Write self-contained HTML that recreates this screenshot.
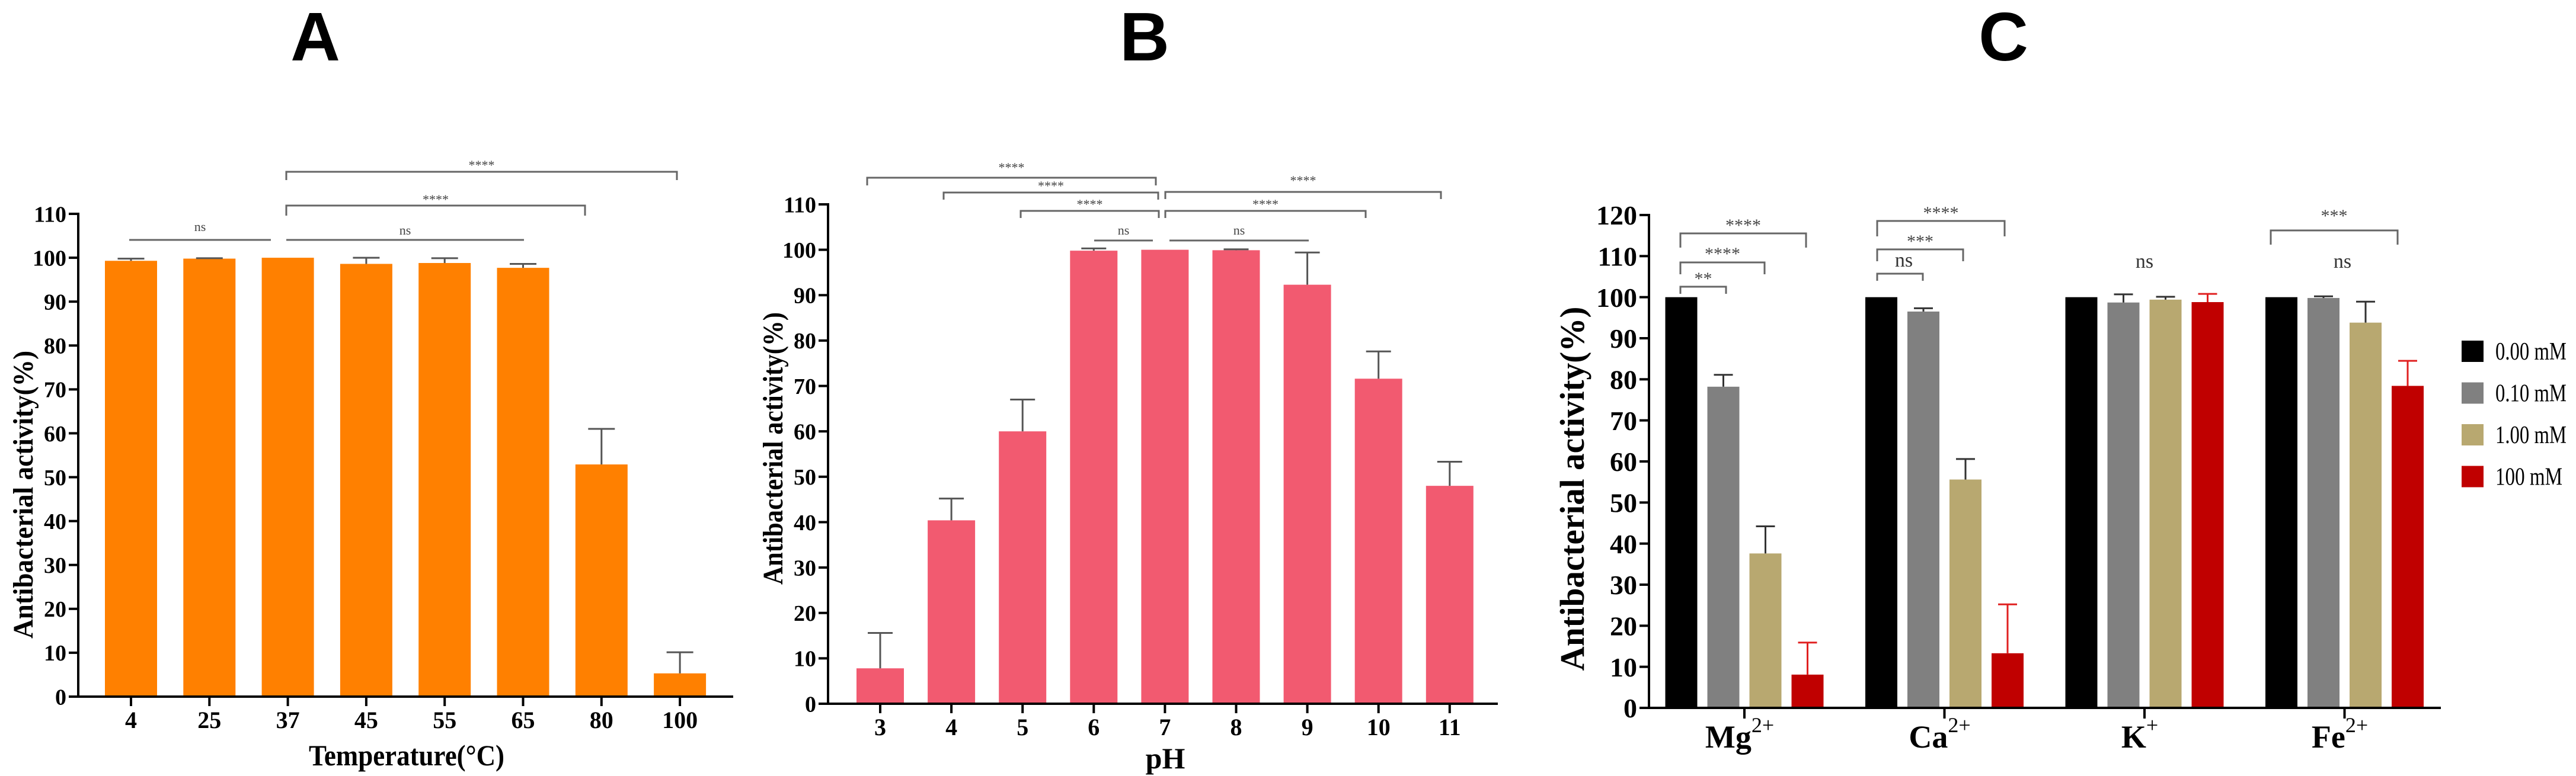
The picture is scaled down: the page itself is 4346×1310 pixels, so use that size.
<!DOCTYPE html>
<html><head><meta charset="utf-8"><style>
html,body{margin:0;padding:0;background:#fff;}
svg{display:block;}
text{font-family:"Liberation Serif",serif;}
.ttl{font-family:"Liberation Sans",sans-serif;font-weight:bold;}
</style></head><body>
<svg id="fig" width="4346" height="1310" viewBox="0 0 4346 1310" xmlns="http://www.w3.org/2000/svg">
<text class="ttl" x="532" y="102" font-size="116" text-anchor="middle">A</text>
<text class="ttl" x="1931" y="102" font-size="116" text-anchor="middle">B</text>
<text class="ttl" x="3380" y="102" font-size="116" text-anchor="middle">C</text>
</svg>
<script>
// Panel A data
const aCats = ["4","25","37","45","55","65","80","100"];
const aVals = [99.3,99.8,100,98.6,98.8,97.7,52.9,5.3];
const aErrs = [0.5,0.1,0,1.4,1.1,0.9,8.1,4.8];
const aTicks = [0,10,20,30,40,50,60,70,80,90,100,110];
// Panel B data
const bCats = ["3","4","5","6","7","8","9","10","11"];
const bVals = [7.8,40.4,60.0,99.8,100,99.9,92.3,71.6,48.0];
const bErrs = [7.8,4.8,7.0,0.5,0,0.2,7.1,6.0,5.3];
const bTicks = [0,10,20,30,40,50,60,70,80,90,100,110];
// Panel C data
const cGroups = ["Mg","Ca","K","Fe"];
const cSup = ["2+","2+","+","2+"];
const cSeries = ["0.00 mM","0.10 mM","1.00 mM","100 mM"];
const cVals0 = [100,100,100,100];
const cVals1 = [78.2,96.5,98.7,99.8];
const cVals2 = [37.6,55.6,99.4,93.8];
const cVals3 = [8.1,13.3,98.8,78.4];
const cErr0 = [0,0,0,0];
const cErr1 = [2.9,0.8,2.0,0.4];
const cErr2 = [6.6,5.0,0.7,5.1];
const cErr3 = [7.8,11.9,2.0,6.1];
const cTicks = [0,10,20,30,40,50,60,70,80,90,100,110,120];

const NS="http://www.w3.org/2000/svg";
const svg=document.getElementById('fig');
function mk(tag,attrs,parent){const e=document.createElementNS(NS,tag);for(const k in attrs)e.setAttribute(k,attrs[k]);(parent||svg).appendChild(e);return e;}

function axes(p,ticks,fs,prefix){
  const yAxis=mk('line',{x1:p.x0,y1:p.y0+2,x2:p.x0,y2:p.ys(ticks[ticks.length-1])-2,stroke:'#000','stroke-width':4});
  
  
  const xAxis=mk('line',{x1:p.x0-2,y1:p.y0,x2:p.x1,y2:p.y0,stroke:'#000','stroke-width':4});
  
  
  ticks.forEach(t=>{
    const y=p.ys(t);
    mk('line',{x1:p.x0-16,y1:y,x2:p.x0,y2:y,stroke:'#000','stroke-width':4});
    const tx=mk('text',{x:p.x0-20,y:y+fs*0.35,'font-size':fs,'font-weight':'bold','text-anchor':'end'});
    tx.textContent=t;
    
    
  });
}
function ylabel(x,yc,len,fs,prefix){
  const t=mk('text',{x:0,y:0,'font-size':fs,'font-weight':'bold','text-anchor':'middle',transform:`translate(${x},${yc}) rotate(-90)`,textLength:len,lengthAdjust:'spacingAndGlyphs'});
  t.textContent='Antibacterial activity(%)';
  
  
}
function errbar(x,yTop,yErr,cap,color,prefix){
  const g=mk('g',{stroke:color,'stroke-width':3});
  
  
  mk('line',{x1:x,y1:yTop,x2:x,y2:yErr},g);
  mk('line',{x1:x-cap/2,y1:yErr,x2:x+cap/2,y2:yErr},g);
}
function bracket(x1,x2,y,drop,label,fs,ty,prefix){
  const g=mk('g',{});
  
  
  const d=drop>0?`M${x1},${y+drop}V${y}H${x2}V${y+drop}`:`M${x1},${y}H${x2}`;
  mk('path',{d:d,fill:'none',stroke:'#666','stroke-width':3},g);
  const t=mk('text',{x:(x1+x2)/2,y:ty,'font-size':fs,'text-anchor':'middle',fill:'#444'},g);
  t.textContent=label;
}

// ---------- Panel A ----------
(function(){
  const p={x0:132,x1:1237,y0:1176,ys:v=>1176-v*(815/110)};
  const cx=i=>221+i*132.3, bw=88;
  aVals.forEach((v,i)=>{
    const r=mk('rect',{x:cx(i)-bw/2,y:p.ys(v),width:bw,height:p.y0-p.ys(v),fill:'#ff8000'});
    
    
    if(aErrs[i]>0) errbar(cx(i),p.ys(v),p.ys(v+aErrs[i]),45,'#555','panel-a');
    mk('line',{x1:cx(i),y1:p.y0,x2:cx(i),y2:p.y0+16,stroke:'#000','stroke-width':4});
    const t=mk('text',{x:cx(i),y:1229,'font-size':40,'font-weight':'bold','text-anchor':'middle'});
    t.textContent=aCats[i];
    
    
  });
  axes(p,aTicks,38,'panel-a');
  ylabel(55,835,486,48,'panel-a');
  const xt=mk('text',{x:686,y:1292,'font-size':50,'font-weight':'bold','text-anchor':'middle',textLength:330,lengthAdjust:'spacingAndGlyphs'});
  xt.textContent='Temperature(°C)';
  
  
  bracket(218,457,405,0,'ns',22,390,'panel-a');
  bracket(483,884,405,0,'ns',22,396,'panel-a');
  bracket(483,987,347,17,'****',22,344,'panel-a');
  bracket(483,1142,290,14,'****',22,286,'panel-a');
})();

// ---------- Panel B ----------
(function(){
  const p={x0:1397,x1:2527,y0:1188,ys:v=>1188-v*(843/110)};
  const cx=i=>1485+i*120.1, bw=80;
  bVals.forEach((v,i)=>{
    const r=mk('rect',{x:cx(i)-bw/2,y:p.ys(v),width:bw,height:p.y0-p.ys(v),fill:'#f25a70'});
    
    
    if(bErrs[i]>0) errbar(cx(i),p.ys(v),p.ys(v+bErrs[i]),42,'#555','panel-b');
    mk('line',{x1:cx(i),y1:p.y0,x2:cx(i),y2:p.y0+16,stroke:'#000','stroke-width':4});
    const t=mk('text',{x:cx(i),y:1241,'font-size':40,'font-weight':'bold','text-anchor':'middle'});
    t.textContent=bCats[i];
    
    
  });
  axes(p,bTicks,38,'panel-b');
  ylabel(1320,757,460,48,'panel-b');
  const xt=mk('text',{x:1966,y:1297,'font-size':50,'font-weight':'bold','text-anchor':'middle'});
  xt.textContent='pH';
  
  
  bracket(1846,1945,406,0,'ns',22,396,'panel-b');
  bracket(1973,2208,406,0,'ns',22,396,'panel-b');
  bracket(1722,1955,356,12,'****',22,352,'panel-b');
  bracket(1966,2304,356,12,'****',22,352,'panel-b');
  bracket(1592,1954,325,12,'****',22,321,'panel-b');
  bracket(1966,2431,324,12,'****',22,312,'panel-b');
  bracket(1463,1950,300,13,'****',22,290,'panel-b');
})();

// ---------- Panel C ----------
(function(){
  const p={x0:2782,x1:4118,y0:1195,ys:v=>1195-v*(832/120)};
  const colors=['#000000','#808080','#b8a870','#c00000'];
  const errColors=['#333','#333','#333','#e02020'];
  const vals=[cVals0,cVals1,cVals2,cVals3], errs=[cErr0,cErr1,cErr2,cErr3];
  const gc=g=>2943+g*337.5, bw=54;
  cGroups.forEach((gname,g)=>{
    for(let s=0;s<4;s++){
      const x=gc(g)+(s-1.5)*71, v=vals[s][g];
      const r=mk('rect',{x:x-bw/2,y:p.ys(v),width:bw,height:p.y0-p.ys(v),fill:colors[s]});
      
      
      if(errs[s][g]>0) errbar(x,p.ys(v),p.ys(v+errs[s][g]),32,errColors[s],'panel-c');
    }
    mk('line',{x1:gc(g),y1:p.y0,x2:gc(g),y2:p.y0+18,stroke:'#000','stroke-width':4});
    const t=mk('text',{x:gc(g)-8,y:1262,'font-size':54,'font-weight':'bold','text-anchor':'middle'});
    t.textContent=gname;
    const sp=mk('tspan',{dy:-26,'font-size':36,'font-weight':'normal'},t);
    sp.textContent=cSup[g];
    
    
  });
  axes(p,cTicks,46,'panel-c');
  ylabel(2672,825,615,58,'panel-c');
  bracket(2835,2912,484,12,'**',30,480,'panel-c');
  bracket(2835,2977,443,20,'****',30,438,'panel-c');
  bracket(2835,3047,394,24,'****',30,390,'panel-c');
  bracket(3167,3244,462,12,'',30,450,'panel-c');
  bracket(3167,3312,421,20,'***',30,417,'panel-c');
  bracket(3167,3382,373,26,'****',30,369,'panel-c');
  bracket(3831,4045,389,24,'***',30,374,'panel-c');
  [[3212,'ns'],[3618,'ns'],[3952,'ns']].forEach(([x,l],i)=>{
    const t=mk('text',{x:x,y:i==0?450:452,'font-size':34,'text-anchor':'middle',fill:'#333'});
    t.textContent=l;
    
    
  });
  cSeries.forEach((name,s)=>{
    const y=593+s*70.5;
    const g=mk('g',{});
    
    
    mk('rect',{x:4153,y:y-18,width:37,height:36,fill:colors[s]},g);
    const t=mk('text',{x:4210,y:y+14,'font-size':42,textLength:(s==3?113:120),lengthAdjust:'spacingAndGlyphs'},g);
    t.textContent=name;
  });
})();
</script>
</body></html>
